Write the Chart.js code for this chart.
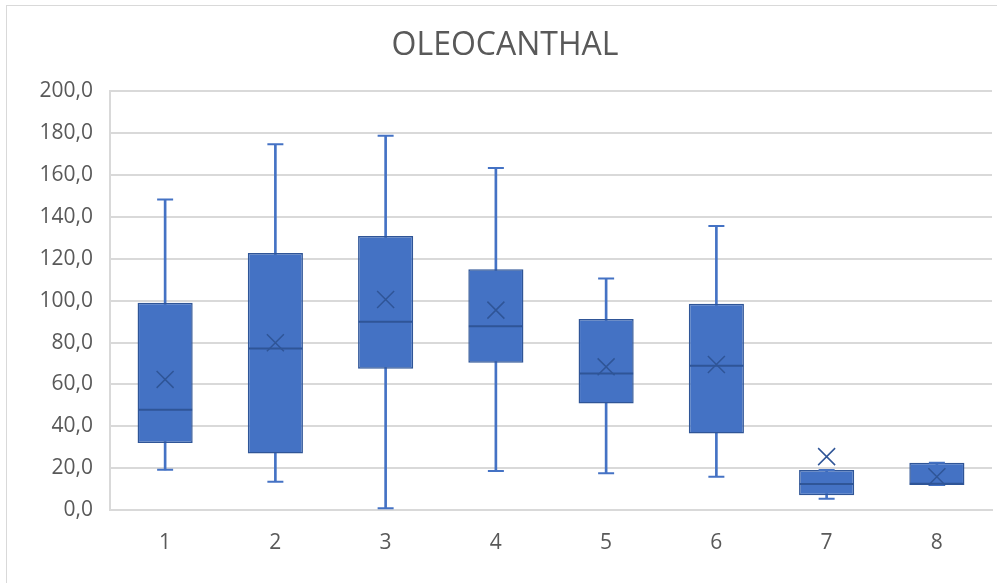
<!DOCTYPE html>
<html lang="pl">
<head>
    <meta charset="UTF-8">
    <title>OLEOCANTHAL</title>
    <script src="https://cdn.jsdelivr.net/npm/chart.js@4/dist/chart.umd.min.js"></script>
    <style>
        body { margin: 0; background: #fff; overflow: hidden; }
        #frame {
            position: absolute; left: 6px; top: 5px; width: 1000px; height: 600px;
            border-left: 1.5px solid #d9d9d9;
            border-top: 1.5px solid #d9d9d9;
        }
        #chart { position: absolute; left: 0; top: 0; }
    </style>
</head>
<body>
    <div id="frame"></div>
    <canvas id="chart" width="997" height="583"></canvas>
    <script>
        // box & whisker values
        const labels  = ["1", "2", "3", "4", "5", "6", "7", "8"];
        const mins    = [19.2, 13.5, 0.8, 18.6, 17.5, 15.9, 5.4, 11.9];
        const q1      = [32.0, 27.0, 67.5, 70.3, 50.9, 36.6, 7.0, 11.9];
        const medians = [47.9, 77.2, 89.9, 87.8, 65.2, 68.9, 12.4, 12.6];
        const q3      = [99.0, 122.8, 130.9, 115.0, 91.2, 98.5, 19.1, 22.6];
        const maxs    = [148.3, 174.7, 178.8, 163.4, 110.6, 135.7, 19.1, 22.6];
        const means   = [62.4, 79.9, 100.6, 95.5, 68.4, 69.5, 25.5, 15.9];

        const blue = "#4472C4";
        const dark = "#2F5597";
        const grey = "#595959";
        const font = "'Open Sans', sans-serif";

        new Chart("chart", {
            type: "bar",
            data: {
                labels: labels,
                datasets: [{
                    // whisker stems, drawn behind the boxes
                    label: "whisker",
                    data: mins.map((m, i) => [m, maxs[i]]),
                    backgroundColor: blue,
                    barThickness: 2,
                    grouped: false,
                    order: 5
                }, {
                    label: "box",
                    data: q1.map((a, i) => [a, q3[i]]),
                    backgroundColor: blue,
                    borderColor: dark,
                    borderWidth: 1.5,
                    borderSkipped: false,
                    categoryPercentage: 1,
                    barPercentage: 0.5,
                    grouped: false,
                    order: 4
                }, {
                    type: "line",
                    label: "max",
                    data: maxs,
                    showLine: false,
                    pointStyle: "line",
                    pointRadius: 8,
                    borderColor: blue,
                    borderWidth: 2,
                    order: 3
                }, {
                    type: "line",
                    label: "min",
                    data: mins,
                    showLine: false,
                    pointStyle: "line",
                    pointRadius: 8,
                    borderColor: blue,
                    borderWidth: 2,
                    order: 3
                }, {
                    type: "line",
                    label: "median",
                    data: medians,
                    showLine: false,
                    pointStyle: "line",
                    pointRadius: 27,
                    borderColor: dark,
                    borderWidth: 2,
                    order: 1
                }, {
                    type: "line",
                    label: "mean",
                    data: means,
                    showLine: false,
                    pointStyle: "crossRot",
                    pointRadius: 12,
                    borderColor: dark,
                    borderWidth: 1.5,
                    order: 0
                }]
            },
            options: {
                responsive: false,
                animation: false,
                layout: { autoPadding: false, padding: { left: 18, right: 5, top: 0, bottom: 0 } },
                plugins: {
                    legend: { display: false },
                    tooltip: { enabled: false },
                    title: {
                        display: true,
                        text: "OLEOCANTHAL",
                        color: grey,
                        font: { family: font, size: 32, weight: "normal" },
                        padding: { top: 27, bottom: 26 }
                    }
                },
                scales: {
                    x: {
                        offset: true,
                        grid: { display: false, drawTicks: false },
                        border: { display: true, color: "#d9d9d9", width: 2 },
                        ticks: {
                            color: grey,
                            padding: 20,
                            font: { family: font, size: 21 }
                        },
                        afterFit: s => { s.height = 73; }
                    },
                    y: {
                        min: 0,
                        max: 200,
                        grid: { color: "#d9d9d9", lineWidth: 2, drawTicks: false },
                        border: { display: true, color: "#d9d9d9", width: 2 },
                        ticks: {
                            stepSize: 20,
                            color: grey,
                            padding: 17,
                            font: { family: font, size: 21 },
                            callback: v => v.toFixed(1).replace(".", ",")
                        },
                        afterFit: s => { s.width = 92; }
                    }
                }
            }
        });
    </script>
</body>
</html>
